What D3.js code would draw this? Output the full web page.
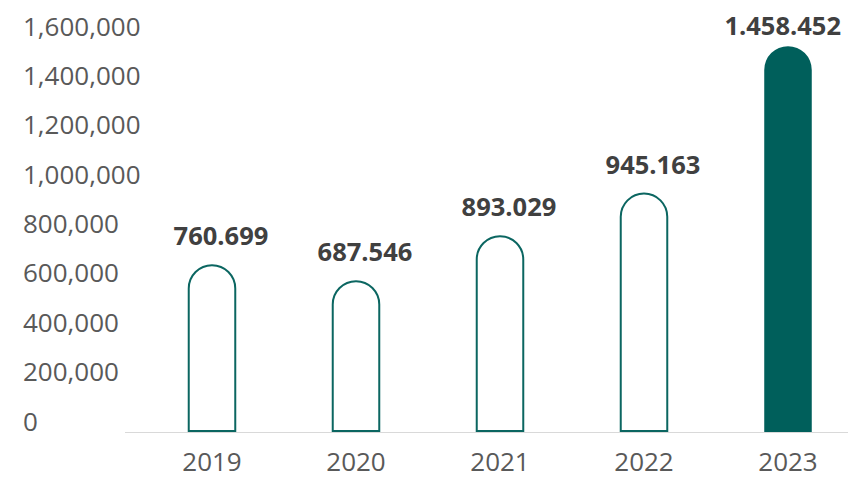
<!DOCTYPE html>
<html>
<head>
<meta charset="utf-8">
<script src="https://cdn.jsdelivr.net/npm/d3@7"></script>
<style>
  body { margin: 0; background: #fff; }
  text { font-family: "Open Sans", sans-serif; }
</style>
</head>
<body>
<div id="chart"></div>
<script>
// data
var years = ['2019', '2020', '2021', '2022', '2023'];
var barValues = [680000, 615000, 797000, 970000, 1563000];   // bar heights against the axis
var valueLabels = ['760.699', '687.546', '893.029', '945.163', '1.458.452'];
var yTicks = [0, 200000, 400000, 600000, 800000, 1000000, 1200000, 1400000, 1600000];

var width = 848, height = 478;
var baseY = 432;

var svg = d3.select("#chart")
  .append("svg")
    .attr("width", width)
    .attr("height", height);

// scales
var x = d3.scaleBand()
  .domain(years)
  .range([140, 860])
  .paddingInner(0.67)
  .paddingOuter(0.335);

var y = d3.scaleLinear()
  .domain([0, 1600000])
  .range([baseY, 37]);

// y axis labels (left aligned)
var yAxis = svg.append("g")
  .call(d3.axisLeft(y).tickValues(yTicks).tickFormat(d3.format(",")).tickSize(0));
yAxis.select(".domain").remove();
yAxis.selectAll("text")
  .attr("x", 23)
  .attr("y", -2)
  .attr("dy", 0)
  .attr("text-anchor", "start")
  .style("font-family", "'Open Sans', sans-serif")
  .style("font-size", "26px")
  .style("fill", "#595959");

// baseline
svg.append("line")
  .attr("x1", 125).attr("x2", width)
  .attr("y1", baseY + 0.5).attr("y2", baseY + 0.5)
  .style("stroke", "#d9d9d9")
  .style("stroke-width", 1);

// x axis labels
var xAxis = svg.append("g")
  .attr("transform", "translate(0," + baseY + ")")
  .call(d3.axisBottom(x).tickSize(0).tickPadding(21));
xAxis.select(".domain").remove();
xAxis.selectAll("text")
  .style("font-family", "'Open Sans', sans-serif")
  .style("font-size", "26px")
  .style("fill", "#595959");

// bar with rounded top
function barPath(x0, w, top, bottom) {
  var r = w / 2;
  return "M" + x0 + "," + bottom +
    "L" + x0 + "," + (top + r) +
    "A" + r + "," + r + " 0 0 1 " + (x0 + w) + "," + (top + r) +
    "L" + (x0 + w) + "," + bottom + "Z";
}

var last = years.length - 1;

svg.selectAll(".bar")
  .data(years)
  .enter()
  .append("path")
    .attr("class", "bar")
    .attr("d", function(d, i) {
      if (i === last) return barPath(x(d), x.bandwidth(), y(barValues[i]), baseY);
      return barPath(x(d) + 0.5, x.bandwidth() - 1, y(barValues[i]) + 1, baseY - 1);
    })
    .style("fill", function(d, i) { return i === last ? "#005f5b" : "#fff"; })
    .style("stroke", function(d, i) { return i === last ? "none" : "#0b6661"; })
    .style("stroke-width", 2);

// value labels
svg.selectAll(".val")
  .data(years)
  .enter()
  .append("text")
    .attr("class", "val")
    .attr("x", function(d) { return x(d) + x.bandwidth() / 2 + 9; })
    .attr("y", function(d, i) { return Math.max(y(barValues[i]) - 19, 35); })
    .attr("text-anchor", "middle")
    .style("font-size", "25.5px")
    .style("font-weight", "bold")
    .style("fill", "#404040")
    .text(function(d, i) { return valueLabels[i]; })
    .each(function() {
      // keep the label inside the right edge
      var w = this.getComputedTextLength();
      var cx = +d3.select(this).attr("x");
      if (cx + w / 2 > 841) d3.select(this).attr("x", 841 - w / 2);
    });
</script>
</body>
</html>
